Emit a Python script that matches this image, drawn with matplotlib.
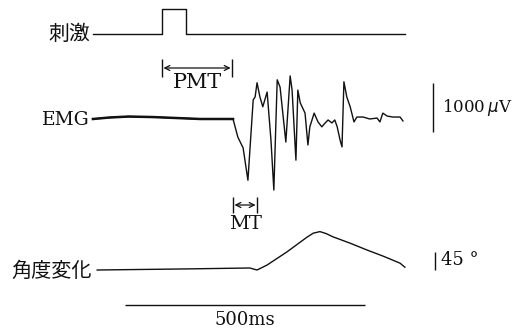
import matplotlib
matplotlib.use("Agg")
import matplotlib.pyplot as plt
import numpy as np

# time axis in ms, 0 = stimulus onset
stim_t = [-144, 0, 0, 50, 50, 506]
stim_v = [0, 0, 1, 1, 0, 0]

emg_t = [-144, -110, -70, -20, 30, 80, 148, 158, 169, 179, 190, 194, 198, 204, 210, 219, 227,
         233, 240, 246, 258, 267, 271, 279, 283, 288, 298, 304, 308, 317, 325, 333,
         340, 346, 354, 360, 365, 371, 375, 379, 385, 392, 400, 406, 419, 433, 448,
         454, 460, 469, 481, 496, 502]
emg_uv = [0, 30, 50, 40, 20, 0, 0, -370, -590, -1250, 390, 450, 740, 450, 250, 550, -430,
          -1450, 800, 650, -470, 880, 590, -840, 590, 330, 120, -530, -160, 120, -60, -160,
          -80, -20, -80, -20, -160, -430, -570, 760, 450, 250, -60, 40, 40, 0, 20,
          -60, 120, 60, 40, 40, -40]

ang_t = [-135, 38, 183, 198, 219, 260, 302, 315, 329, 342, 356, 392, 427, 460, 496, 506]
ang_deg = [0, 2.5, 5, 0, 12.5, 45, 82, 92, 96, 91, 83, 67, 50, 35, 17, 7]

pmt = (0, 148)
mt = (148, 198)
time_bar = (-77, 423)

# layout: rows in pixels from the top
px_per_ms = 0.48
x0_px = 162
stim_row, stim_px = 34, 25
emg_row, emg_px = 119, 0.049
ang_row, ang_px = 270, 0.4

serif = ["DejaVu Serif"]
cjk = ["Noto Sans CJK JP", "DejaVu Sans"]
col = "#111111"

fig = plt.figure(figsize=(5.16, 3.30), dpi=100)
ax = fig.add_axes([0, 0, 1, 1])
ax.set_xlim(-x0_px / px_per_ms, (516 - x0_px) / px_per_ms)
ax.set_ylim(330, 0)
ax.axis("off")

ax.plot(stim_t, stim_row - np.array(stim_v) * stim_px, color=col, lw=1.0)
ax.plot(emg_t, emg_row - np.array(emg_uv) * emg_px, color=col, lw=1.0)
ax.plot(emg_t[:7], emg_row - np.array(emg_uv[:7]) * emg_px, color=col, lw=1.8)
ax.plot(ang_t, ang_row - np.array(ang_deg) * ang_px, color=col, lw=1.0)

lab_t = -150
ax.text(lab_t, stim_row, "刺激", family=cjk, fontsize=15, ha="right", va="center", color=col)
ax.text(lab_t, emg_row + 1, "EMG", family=serif, fontsize=13.5, ha="right", va="center", color=col)
ax.text(lab_t + 4, ang_row + 1, "角度変化", family=cjk, fontsize=14.5, ha="right", va="center", color=col)


def bracket(t0, t1, y, h):
    ax.vlines([t0, t1], y - h, y + h, color=col, lw=1.0)
    ax.annotate("", xy=(t1 - 3, y), xytext=(t0 + 3, y),
                arrowprops=dict(arrowstyle="<->", lw=0.9, color=col,
                                shrinkA=0, shrinkB=0, mutation_scale=9))


bracket(pmt[0], pmt[1] - 2, 68, 9)
ax.text(sum(pmt) / 2, 82, "PMT", family=serif, fontsize=15, ha="center", va="center", color=col)
bracket(mt[0], mt[1], 205, 8)
ax.text(sum(mt) / 2, 224, "MT", family=serif, fontsize=14, ha="center", va="center", color=col)

# scale bars
sb_t = 565
ax.vlines(sb_t, emg_row - 36, emg_row - 36 + 1000 * emg_px, color=col, lw=1.0)
ax.text(sb_t + 18, 107, "1000\u2009$\\mu$V", family=serif, fontsize=12, ha="left", va="center", color=col)
ax.vlines(sb_t + 4, ang_row - 45 * ang_px, ang_row, color=col, lw=1.0)
ax.text(sb_t + 16, 260, "45 °", family=serif, fontsize=13, ha="left", va="center", color=col)

ax.hlines(305, time_bar[0], time_bar[1], color=col, lw=1.0)
ax.text(sum(time_bar) / 2, 320, "500ms", family=serif, fontsize=13, ha="center", va="center", color=col)

fig.savefig("out.png", dpi=100)
